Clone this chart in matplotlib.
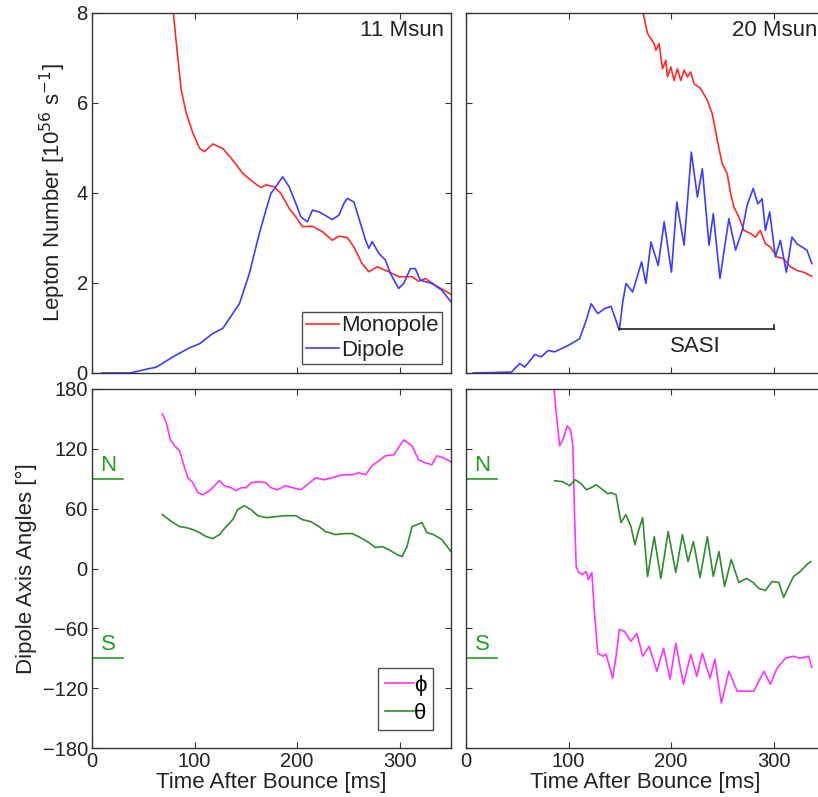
import numpy as np
import matplotlib.pyplot as plt

plt.rcParams['font.family'] = ['Liberation Sans', 'DejaVu Sans']
plt.rcParams['font.size'] = 16

# 11 Msun: monopole / dipole lepton number (10^56 s^-1)
t11_mono = [79.3, 82.2, 87, 91.9, 98.4, 104.9, 109.7, 117.8, 127.5, 137.2, 146.9, 156.6, 164.7,
            169.6, 177.7, 184.1, 192.2, 198.7, 205.2, 214.9, 224.6, 234.3, 240.8, 248.9, 255.3,
            263.4, 269.9, 278, 289.3, 299, 311.9, 318.4, 324.9, 334.6, 350]
mono11 = [8.0, 7.33, 6.29, 5.77, 5.33, 4.99, 4.92, 5.09, 4.99, 4.73, 4.44, 4.25, 4.12,
          4.18, 4.14, 3.99, 3.66, 3.47, 3.25, 3.26, 3.14, 2.95, 3.04, 3.01, 2.80,
          2.43, 2.25, 2.36, 2.25, 2.14, 2.14, 2.04, 2.10, 1.95, 1.75]
t11_dip = [9.4, 36.9, 56.3, 62.8, 79, 95.1, 104.9, 117.8, 127.5, 137.2, 143.7, 153.4, 163.1,
           169.6, 174.4, 179.3, 185.8, 192.2, 198.7, 203.6, 210, 214.9, 221.4, 234.3, 240.8,
           245.6, 248.9, 255.3, 261.8, 266.7, 269.9, 273.1, 279.6, 286.1, 290.9, 299, 303.9,
           310.4, 315.2, 320.1, 331.4, 341.1, 350]
dip11 = [0.0, 0.0, 0.10, 0.13, 0.36, 0.56, 0.65, 0.88, 0.99, 1.32, 1.54, 2.21, 3.10,
         3.62, 3.99, 4.14, 4.36, 4.14, 3.77, 3.47, 3.36, 3.62, 3.58, 3.41, 3.51,
         3.77, 3.88, 3.80, 3.32, 2.95, 2.77, 2.92, 2.66, 2.51, 2.21, 1.88, 1.99,
         2.32, 2.32, 2.06, 1.99, 1.84, 1.58]

# 20 Msun
t20_mono = [172.8, 177, 180.3, 183.5, 185.1, 188.3, 191.6, 194.8, 196.4, 199.7, 202.9, 206.1,
            209.4, 212.6, 215.9, 219.1, 222.3, 228.8, 235.3, 240.1, 245, 249.8, 254.7, 257.9,
            261.2, 266, 270.9, 277.3, 282.2, 287, 291.9, 296.8, 303.2, 309.7, 316.2, 322.6,
            329.1, 337.2]
mono20 = [7.99, 7.54, 7.43, 7.31, 7.17, 7.32, 6.76, 6.95, 6.58, 6.8, 6.5, 6.76,
          6.5, 6.73, 6.58, 6.69, 6.43, 6.32, 6.06, 5.76, 5.17, 4.65, 4.43, 3.99,
          3.69, 3.47, 3.17, 3.10, 3.02, 3.17, 2.87, 2.8, 2.58, 2.54, 2.36, 2.28,
          2.24, 2.15]
t20_dip = [7.1, 44.3, 52.4, 57.3, 67, 73.5, 79.9, 86.4, 99.4, 110.7, 117.2, 122, 128.5, 135,
           141.4, 149.5, 152.8, 156, 162.5, 171.2, 175.4, 180.3, 187.4, 193.2, 200.3, 205.5,
           212.6, 219.7, 225.6, 230.4, 236.9, 241.1, 247.6, 256.3, 262.8, 269.3, 274.1, 280,
           284.5, 288.7, 291.9, 296.1, 301.6, 306.5, 312.3, 317.8, 322.7, 327.5, 332.4, 337.2]
dip20 = [0.0, 0.02, 0.21, 0.13, 0.41, 0.36, 0.50, 0.47, 0.61, 0.76, 1.17, 1.54, 1.32, 1.43,
         1.48, 0.95, 1.58, 1.99, 1.8, 2.47, 1.99, 2.91, 2.39, 3.36, 2.24, 3.8,
         2.84, 4.91, 3.91, 4.54, 2.84, 3.54, 2.10, 3.43, 2.73, 3.17, 3.73, 4.10,
         3.76, 3.87, 3.17, 3.58, 2.58, 2.95, 2.24, 3.02, 2.87, 2.8, 2.73, 2.43]

# dipole axis angles (deg)
t11_phi = [68.6, 72.5, 76.4, 80.6, 85.4, 90.3, 93.5, 98.4, 103.2, 108.1, 114.6, 119.4, 124.3,
           129.1, 135.6, 140.5, 145.3, 150.2, 155, 163.1, 169.6, 174.4, 180.9, 188.7, 195.5,
           203.6, 210, 218.1, 226.2, 234.3, 244, 253.7, 260.2, 266.7, 273.1, 279.6, 286.1,
           294.2, 300.6, 303.9, 312, 318.4, 324.9, 331.4, 336.2, 342.7, 350]
phi11 = [155, 146, 129, 123, 118, 101, 91, 86, 76, 74, 78, 83, 88,
         83, 81, 78, 81, 81, 86, 87, 86, 81, 79, 83, 81,
         79, 84, 91, 89, 91, 94, 94, 96, 94, 103, 108, 113,
         114, 124, 129, 123, 109, 106, 104, 113, 111, 107]
t11_theta = [68.6, 72.5, 79, 85.4, 91.9, 98.4, 104.9, 111.3, 117.8, 124.3, 130.7, 137.2, 142,
             148.5, 155, 161.5, 169.6, 179.3, 188.7, 198.7, 205.2, 213.3, 221.4, 227.8, 237.5,
             245.6, 253.7, 261.8, 269.9, 276.4, 282.8, 289.3, 297.4, 302.3, 307.1, 312, 316.8,
             321.7, 326.5, 333, 341.1, 350]
theta11 = [54, 51, 46, 42, 41, 39, 36, 32, 30, 34, 42, 49, 59,
           63, 59, 53, 51, 52, 53, 53, 49, 47, 42, 37, 34,
           35, 35, 31, 26, 21, 22, 19, 14, 12, 22, 42, 44,
           46, 36, 34, 29, 17]
t20_phi = [85.8, 88, 91.3, 94.5, 98.7, 101.9, 104.2, 105.8, 107.4, 109.7, 113.9, 117.2, 119.4,
           122.7, 125.2, 128.5, 133.3, 136.6, 139.8, 143, 146.3, 149.5, 154.4, 160.8, 166.7,
           172.2, 178.6, 186.1, 192.6, 199, 204.5, 212, 219.1, 225, 230.4, 237.9, 242.7,
           248.9, 256.3, 264.4, 272.5, 280.6, 290.3, 296.8, 303.2, 311.3, 319.4, 325.9, 334,
           337.2]
phi20 = [180, 156, 123, 129, 143, 139, 123, 56, 2, -4, -6, -3, -11,
         -4, -44, -85, -88, -86, -98, -110, -88, -61, -63, -73, -65,
         -88, -78, -103, -80, -111, -75, -116, -86, -108, -85, -110, -91,
         -135, -103, -123, -123, -123, -103, -116, -100, -90, -88, -90, -88,
         -99]
t20_theta = [86.4, 94.5, 101, 106.5, 112.3, 117.2, 122, 126.9, 133.3, 138.2, 141.4, 146.3,
             151.1, 155.9, 160.8, 164.7, 167.9, 172.2, 177, 183.5, 190, 197.1, 204.5, 211,
             216.5, 221.7, 228.2, 235.3, 241.1, 246.6, 252.1, 258.6, 266, 273.4, 279.9, 285.4,
             291.9, 298.4, 304.9, 309.7, 314.6, 319.4, 325.9, 332.4, 336.2]
theta20 = [88, 87, 83, 89, 85, 79, 81, 84, 79, 75, 76, 74,
           46, 54, 42, 24, 37, 51, -8, 32, -10, 37, -4, 34,
           7, 27, -9, 32, -8, 17, -18, 9, -14, -10, -14, -20,
           -22, -13, -14, -29, -18, -8, -3, 4, 7]

red = '#ff2a2a'
blue = '#3d3dff'
magenta = '#ff33ff'
dgreen = '#2e8b2e'
lgreen = '#1f9f1f'
txt = '#222222'
spine = '#333333'

fig = plt.figure(figsize=(8.18, 7.97), dpi=100)
W, H = 818.0, 797.0
aw = 359 / W
ax1 = fig.add_axes([92 / W, 1 - 373 / H, aw, 360 / H])
ax2 = fig.add_axes([466 / W, 1 - 373 / H, aw, 360 / H])
ax3 = fig.add_axes([92 / W, 1 - 748 / H, aw, 359 / H])
ax4 = fig.add_axes([466 / W, 1 - 748 / H, aw, 359 / H])

for ax in (ax1, ax2, ax3, ax4):
    ax.set_xlim(0, 350)
    ax.set_xticks([0, 100, 200, 300])
    ax.tick_params(direction='in', top=True, right=True, length=4, colors=spine,
                   labelcolor=txt, labelsize=14.5, pad=3)
    for s in ax.spines.values():
        s.set_color(spine)
        s.set_linewidth(1.0)

for ax in (ax1, ax2):
    ax.set_ylim(0, 8)
    ax.set_yticks([0, 2, 4, 6, 8])
    ax.tick_params(labelbottom=False)
for ax in (ax3, ax4):
    ax.set_ylim(-180, 180)
    ax.set_yticks([-180, -120, -60, 0, 60, 120, 180])
    ax.set_xlabel('Time After Bounce [ms]', color=txt, labelpad=0.5)
for ax in (ax2, ax4):
    ax.tick_params(labelleft=False)

# top left
ax1.plot(t11_mono, mono11, color=red, lw=1.2, label='Monopole')
ax1.plot(t11_dip, dip11, color=blue, lw=1.2, label='Dipole')
ax1.text(343, 7.62, '11 Msun', ha='right', va='center', color=txt)
ax1.set_ylabel('Lepton Number [10$^{56}$ s$^{-1}$]', color=txt, labelpad=6)
leg = ax1.legend(loc='lower right', fancybox=False, edgecolor='#222222', handlelength=1.5,
                 handletextpad=0.1, borderaxespad=0.4, borderpad=0.15, labelspacing=0.15)
leg.get_frame().set_linewidth(1.0)
for t in leg.get_texts():
    t.set_color(txt)

# top right
ax2.plot(t20_mono, mono20, color=red, lw=1.2)
ax2.plot(t20_dip, dip20, color=blue, lw=1.2)
ax2.text(343, 7.62, '20 Msun', ha='right', va='center', color=txt)
ax2.plot([149.5, 300], [0.985, 0.985], color='#222222', lw=1.2)
ax2.plot([300, 300], [0.985, 1.06], color='#222222', lw=1.2)
ax2.text(224, 0.58, 'SASI', ha='center', va='center', color=txt)

# bottom panels
for ax in (ax3, ax4):
    ax.plot([0, 30], [90, 90], color=lgreen, lw=1.2)
    ax.plot([0, 30], [-90, -90], color=lgreen, lw=1.2)
    ax.text(16, 93, 'N', ha='center', va='bottom', color=lgreen)
    ax.text(16, -87, 'S', ha='center', va='bottom', color=lgreen)

ax3.plot(t11_phi, phi11, color=magenta, lw=1.2, label='ϕ')
ax3.plot(t11_theta, theta11, color=dgreen, lw=1.2, label='θ')
ax3.set_ylabel('Dipole Axis Angles [°]', color=txt, labelpad=4)
leg2 = ax3.legend(loc='lower right', fancybox=False, edgecolor='#222222', handlelength=1.3,
                  handletextpad=0.0, borderaxespad=0.8, borderpad=0.3, labelspacing=0.3)
leg2.get_frame().set_linewidth(1.0)

ax4.plot(t20_phi, phi20, color=magenta, lw=1.2)
ax4.plot(t20_theta, theta20, color=dgreen, lw=1.2)

fig.savefig('out.png', dpi=100)
